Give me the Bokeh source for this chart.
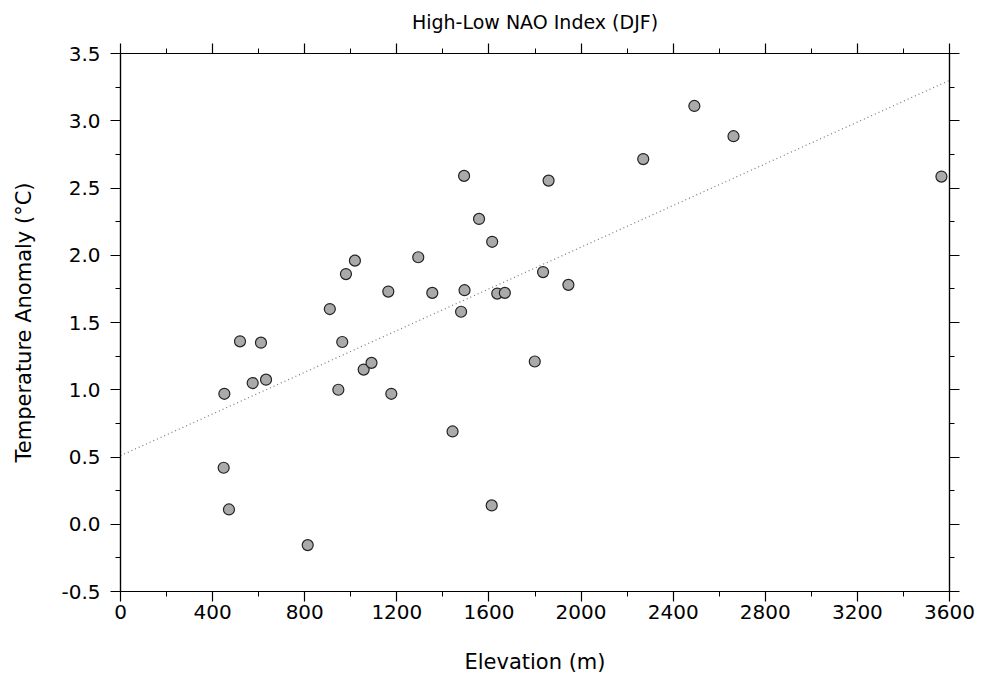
from bokeh.plotting import figure
from bokeh.models import Range1d, LinearAxis, FixedTicker, PrintfTickFormatter, CustomJSTickFormatter, ColumnDataSource
from bokeh.embed import file_html
from bokeh.resources import INLINE

# Station elevations (m) and temperature anomalies (deg C)
elevation = [451, 448, 471, 519, 574, 610, 632, 813, 909, 946, 963, 979,
             1018, 1056, 1090, 1163, 1176, 1293, 1354, 1442, 1479, 1492,
             1494, 1557, 1612, 1614, 1636, 1669, 1799, 1835, 1859, 1945,
             2270, 2492, 2662, 3565]
anomaly = [0.97, 0.42, 0.11, 1.36, 1.05, 1.35, 1.075, -0.155, 1.60, 1.00,
           1.355, 1.86, 1.96, 1.15, 1.20, 1.73, 0.97, 1.985, 1.72, 0.69,
           1.58, 2.59, 1.74, 2.27, 0.14, 2.10, 1.715, 1.72, 1.21, 1.875,
           2.555, 1.78, 2.715, 3.11, 2.885, 2.585]

# Regression line end points
fit_elevation = [0, 3600]
fit_anomaly = [0.51, 3.30]

x_ticks = [0, 400, 800, 1200, 1600, 2000, 2400, 2800, 3200, 3600]
x_minor = [200, 600, 1000, 1400, 1800, 2200, 2600, 3000, 3400]
y_ticks = [-0.5, 0.0, 0.5, 1.0, 1.5, 2.0, 2.5, 3.0, 3.5]
y_minor = [-0.25, 0.25, 0.75, 1.25, 1.75, 2.25, 2.75, 3.25]

FONT = "DejaVu Sans"

p = figure(frame_width=829, frame_height=538,
           x_range=Range1d(0, 3600), y_range=Range1d(-0.5, 3.5),
           output_backend="svg", toolbar_location=None,
           min_border_left=120, min_border_right=28,
           min_border_top=53, min_border_bottom=86,
           title="High-Low NAO Index (DJF)")
p.background_fill_color = "white"
p.border_fill_color = "white"
p.outline_line_color = "black"
p.outline_line_width = 1.2
p.xgrid.visible = False
p.ygrid.visible = False

p.title.align = "center"
p.title.vertical_align = "top"
p.title.text_font = FONT
p.title.text_font_size = "19px"
p.title.text_font_style = "normal"
p.title.text_color = "black"
p.title.standoff = 18

def style_axis(ax, ticks, minor, labels=True):
    ax.ticker = FixedTicker(ticks=ticks, minor_ticks=minor)
    ax.axis_line_color = "black"
    ax.axis_line_width = 1.2
    ax.major_tick_line_color = "black"
    ax.minor_tick_line_color = "black"
    ax.major_tick_line_width = 1.2
    ax.minor_tick_line_width = 1.0
    ax.major_tick_out = 10
    ax.major_tick_in = 0
    ax.minor_tick_out = 5
    ax.minor_tick_in = 0
    ax.major_label_text_font = FONT
    ax.major_label_text_font_size = "20px"
    ax.major_label_text_color = "black"
    ax.axis_label_text_font = FONT
    ax.axis_label_text_font_size = "21px"
    ax.axis_label_text_font_style = "normal"
    ax.axis_label_text_color = "black"
    if not labels:
        ax.formatter = CustomJSTickFormatter(code="return ''")

xa = p.xaxis[0]
style_axis(xa, x_ticks, x_minor)
xa.axis_label = "Elevation (m)"
xa.major_label_standoff = 3
xa.axis_label_standoff = 28

ya = p.yaxis[0]
style_axis(ya, y_ticks, y_minor)
ya.formatter = PrintfTickFormatter(format="%.1f")
ya.axis_label = "Temperature Anomaly (°C)"
ya.major_label_standoff = 10
ya.axis_label_standoff = 22

top = LinearAxis()
style_axis(top, x_ticks, x_minor, labels=False)
p.add_layout(top, "above")
right = LinearAxis()
style_axis(right, y_ticks, y_minor, labels=False)
p.add_layout(right, "right")

p.line(fit_elevation, fit_anomaly, line_color="#777777", line_width=1.2,
       line_dash="1 3")

src = ColumnDataSource(dict(x=elevation, y=anomaly))
p.scatter("x", "y", source=src, size=11, marker="circle",
          fill_color="#aaaaaa", line_color="#222222", line_width=1.2)

open("out.html", "w").write(file_html(p, INLINE))
